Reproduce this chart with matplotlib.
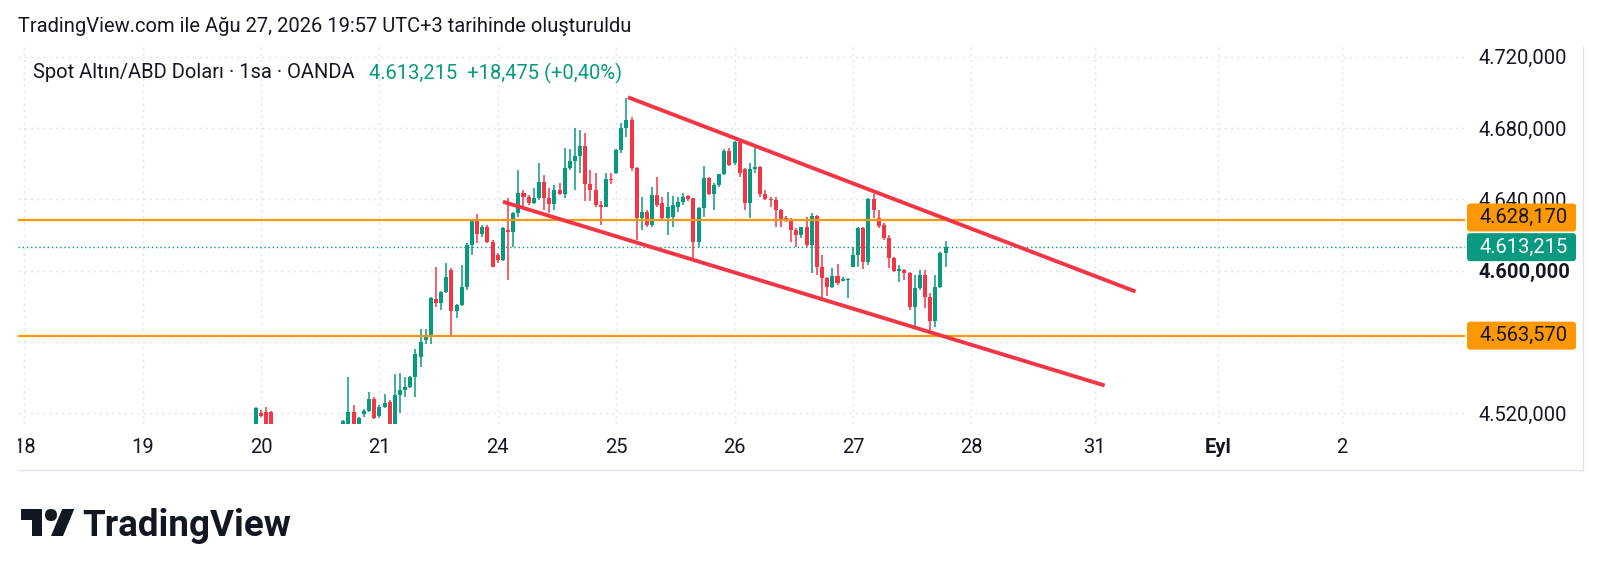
import numpy as np
import matplotlib
matplotlib.use("Agg")
import matplotlib.pyplot as plt
from matplotlib.patches import Polygon, FancyBboxPatch
from matplotlib.lines import Line2D
from matplotlib.transforms import IdentityTransform

plt.rcParams['font.family'] = ['Roboto', 'DejaVu Sans']

# hourly XAU/USD candles, bar index counted from the first bar of Aug 18
# None = bar outside the visible price range
first_bar = 45
opens = [4512.0, 4520.4, 4520.6, 4521.0] + [None] * 13 + [
    4513.0, 4513.0, 4520.6, 4514.0, 4519.6, 4521.3, 4528.0, 4518.7, 4523.4, 4526.5,
    4513.5, 4530.3, 4533.1, 4534.9, 4540.2, 4551.4, 4561.1, 4562.6, 4584.0, 4582.1,
    4588.2, 4600.4, 4577.6, 4580.8, 4591.0, 4614.4, 4628.4, 4620.6, 4624.3, 4616.3,
    4608.8, 4606.0, 4622.8, 4621.9, 4632.2, 4643.4, 4641.2, 4638.1, 4640.6, 4649.5,
    4640.6, 4637.4, 4645.3, 4643.0, 4657.4, 4661.6, 4664.4, 4669.8, 4648.5, 4645.3,
    4636.8, 4635.9, 4651.4, 4655.0, 4667.7, 4679.9, 4684.5, 4657.4, 4629.4, 4633.1,
    4625.6, 4642.5, 4637.8, 4629.4, 4630.3, 4635.9, 4638.7, 4641.9, 4640.6, 4616.3,
    4635.0, 4652.1, 4643.0, 4648.1, 4654.0, 4667.3, 4660.2, 4672.4, 4656.9, 4637.8,
    4656.9, 4658.3, 4643.0, 4640.2, 4639.6, 4634.0, 4629.3, 4628.4, 4622.8, 4620.0,
    4624.3, 4614.4, 4630.8, 4602.2, 4595.7, 4591.0, 4597.0, 4594.5, 4594.8, 4602.2,
    4608.8, 4623.8, 4605.1, 4640.0, 4629.4, 4625.6, 4618.2, 4607.0, 4600.0, 4600.4,
    4598.5, 4579.8, 4590.1, 4597.6, 4585.4, 4572.0, 4591.0, 4610.1]
highs = [4523.7, 4522.0, 4523.4, 4521.5] + [None] * 13 + [
    4516.5, 4540.6, 4524.7, 4518.0, 4522.5, 4532.1, 4529.3, 4524.5, 4530.8, 4527.5,
    4542.1, 4542.5, 4540.6, 4541.0, 4555.9, 4567.1, 4567.1, 4585.4, 4601.9, 4588.5,
    4604.1, 4601.3, 4581.5, 4603.2, 4615.4, 4629.0, 4631.8, 4625.6, 4625.6, 4617.0,
    4609.7, 4624.5, 4640.6, 4633.1, 4656.5, 4645.3, 4642.5, 4646.2, 4660.2, 4653.7,
    4646.2, 4648.1, 4649.0, 4669.0, 4668.1, 4680.3, 4678.9, 4677.1, 4656.5, 4654.6,
    4639.2, 4655.0, 4654.6, 4668.5, 4682.7, 4696.7, 4686.0, 4658.0, 4641.5, 4634.0,
    4647.1, 4652.7, 4641.5, 4644.3, 4641.9, 4641.5, 4643.4, 4642.5, 4641.0, 4635.5,
    4659.0, 4652.5, 4649.0, 4654.5, 4668.1, 4668.6, 4672.9, 4673.3, 4657.5, 4660.6,
    4670.5, 4658.7, 4645.3, 4641.5, 4641.2, 4634.5, 4630.7, 4629.3, 4623.8, 4624.7,
    4630.0, 4632.2, 4631.5, 4608.8, 4596.5, 4601.3, 4603.8, 4596.6, 4595.9, 4613.1,
    4624.7, 4624.5, 4640.6, 4643.0, 4634.0, 4626.6, 4620.0, 4607.5, 4603.2, 4600.8,
    4599.0, 4597.6, 4600.4, 4600.4, 4587.3, 4597.6, 4610.7, 4616.7]
lows = [4508.0, 4518.0, 4509.0, 4509.0] + [None] * 13 + [
    4511.0, 4511.0, 4510.0, 4512.0, 4518.0, 4520.5, 4516.8, 4517.5, 4522.8, 4510.0,
    4511.0, 4519.9, 4529.3, 4534.0, 4529.3, 4546.2, 4558.9, 4558.9, 4579.8, 4578.0,
    4587.5, 4563.4, 4573.3, 4580.0, 4589.2, 4608.8, 4615.4, 4619.1, 4615.4, 4601.9,
    4604.3, 4605.2, 4594.8, 4613.5, 4630.3, 4635.9, 4636.8, 4637.4, 4639.5, 4634.0,
    4632.2, 4634.0, 4642.5, 4640.6, 4656.6, 4645.3, 4655.0, 4639.2, 4639.2, 4635.9,
    4625.6, 4635.5, 4648.5, 4654.0, 4665.8, 4675.2, 4656.0, 4617.2, 4622.8, 4624.7,
    4624.7, 4635.9, 4628.9, 4620.0, 4624.7, 4633.1, 4636.8, 4639.0, 4607.0, 4613.5,
    4630.3, 4642.5, 4634.0, 4647.0, 4653.5, 4658.5, 4659.3, 4652.8, 4634.0, 4629.4,
    4654.6, 4641.5, 4639.6, 4635.5, 4624.7, 4624.7, 4627.5, 4616.3, 4613.5, 4618.2,
    4613.5, 4598.5, 4597.6, 4584.5, 4585.8, 4590.5, 4591.9, 4594.0, 4584.5, 4601.9,
    4602.2, 4600.8, 4603.3, 4629.4, 4623.8, 4617.2, 4601.3, 4599.4, 4593.8, 4594.8,
    4578.0, 4568.6, 4589.2, 4578.9, 4566.7, 4568.6, 4590.1, 4602.2]
closes = [4522.8, 4518.7, 4512.0, 4512.0] + [None] * 13 + [
    4515.9, 4520.9, 4513.0, 4517.2, 4521.5, 4528.0, 4517.2, 4523.4, 4525.6, 4513.0,
    4530.3, 4533.1, 4534.9, 4540.2, 4553.3, 4560.2, 4563.4, 4584.5, 4582.1, 4588.2,
    4596.3, 4577.6, 4580.8, 4591.0, 4614.4, 4628.4, 4620.6, 4624.3, 4616.3, 4602.2,
    4606.0, 4623.8, 4621.5, 4632.2, 4643.4, 4641.2, 4638.1, 4640.6, 4649.9, 4640.6,
    4637.4, 4645.3, 4643.0, 4657.4, 4661.6, 4664.4, 4669.8, 4648.5, 4645.3, 4636.8,
    4635.9, 4651.4, 4650.8, 4667.7, 4679.9, 4684.5, 4657.4, 4629.4, 4633.1, 4625.6,
    4642.5, 4636.8, 4629.4, 4635.9, 4636.8, 4638.7, 4641.5, 4640.0, 4616.3, 4635.0,
    4652.1, 4643.0, 4648.1, 4654.0, 4667.3, 4659.3, 4672.4, 4654.6, 4637.8, 4656.9,
    4658.3, 4643.0, 4640.0, 4639.6, 4634.0, 4628.4, 4628.4, 4622.8, 4620.0, 4624.3,
    4614.4, 4630.8, 4602.2, 4595.7, 4591.0, 4597.0, 4593.3, 4595.3, 4595.5, 4608.8,
    4623.8, 4605.1, 4640.0, 4634.0, 4625.1, 4618.2, 4607.0, 4600.0, 4600.8, 4598.5,
    4579.8, 4590.1, 4597.6, 4585.4, 4572.0, 4591.0, 4610.1, 4613.215]

day_starts = [0, 23, 46, 69, 92, 115, 138, 161, 184, 208, 232, 256]
day_labels = ["18", "19", "20", "21", "24", "25", "26", "27", "28", "31", "Eyl", "2"]

price_ticks = [4520, 4560, 4600, 4640, 4680, 4720]
level_high = 4628.170
level_low = 4563.570
last_price = 4613.215
change = 18.475
change_pct = 0.40

# channel drawn by hand: (bar, price) anchors
upper_bars = [117.3, 215.9]
upper_prices = [4697.3, 4588.3]
lower_bars = [93.0, 209.9]
lower_prices = [4638.7, 4535.6]

GREEN = '#089981'
RED = '#F23645'
ORANGE = '#FF9800'
TEXT = '#131722'
GRID = '#E0E3EB'
W, H = 1600, 573


def tr_num(v, decimals=3):
    s = f"{v:,.{decimals}f}"
    return s.replace(",", "_").replace(".", ",").replace("_", ".")


def fx(px):
    return px / W


def fy(py):
    return 1 - py / H


fig = plt.figure(figsize=(W / 100, H / 100), dpi=100)
fig.patch.set_facecolor('white')

ax = fig.add_axes([fx(18), fy(424), fx(1465) - fx(18), fy(47) - fy(424)])
ax.set_xlim(-1.2, 279.9)
ax.set_ylim(4514.0, 4725.5)
for s in ax.spines.values():
    s.set_visible(False)

# grid
for p in price_ticks:
    ax.axhline(p, color=GRID, lw=1, ls=(0, (1.5, 3)), zorder=0)
for d in day_starts:
    ax.axvline(d, color=GRID, lw=1, ls=(0, (1.5, 3)), zorder=0)

# candles
o = np.array(opens, dtype=float)
h = np.array(highs, dtype=float)
l = np.array(lows, dtype=float)
c = np.array(closes, dtype=float)
bars = np.arange(first_bar, first_bar + len(o))
ok = ~np.isnan(o)
cols = np.where(c >= o, GREEN, RED)[ok]
ax.vlines(bars[ok], l[ok], h[ok], colors=cols, lw=1.1, zorder=2)
ax.bar(bars[ok], np.maximum(np.abs(c - o)[ok], 0.5), bottom=np.minimum(o, c)[ok],
       width=0.78, color=cols, lw=0, zorder=3)

# levels and drawings
ax.axhline(last_price, color=GREEN, lw=1, ls=(0, (1, 2)), zorder=1)
ax.axhline(level_high, color=ORANGE, lw=1.6, zorder=4)
ax.axhline(level_low, color=ORANGE, lw=1.6, zorder=4)
ax.plot(upper_bars, upper_prices, color=RED, lw=2.8, solid_capstyle='butt', zorder=5)
ax.plot(lower_bars, lower_prices, color=RED, lw=2.8, solid_capstyle='butt', zorder=5)

# price scale
ax.yaxis.tick_right()
ax.set_yticks(price_ticks)
ax.set_yticklabels(["" if p == 4560 else tr_num(p) for p in price_ticks])
ax.tick_params(axis='y', length=0, pad=10, labelsize=14.5, labelcolor=TEXT)
ax.tick_params(axis='x', bottom=False, labelbottom=False)
for lbl, p in zip(ax.get_yticklabels(), price_ticks):
    if p == 4600:
        lbl.set_fontweight('bold')

# time scale
ax_t = fig.add_axes([fx(18), fy(470), fx(1465) - fx(18), fy(424) - fy(470)])
ax_t.set_xlim(ax.get_xlim())
ax_t.set_ylim(0, 1)
ax_t.axis('off')
for d, lab in zip(day_starts, day_labels):
    ax_t.text(d, 0.48, lab, ha='center', va='center', fontsize=14.5, color=TEXT,
              fontweight='bold' if lab == "Eyl" else 'normal', clip_on=True)

# frame lines
fig.add_artist(Line2D([fx(1583), fx(1583)], [fy(47), fy(470)], color='#E0E3EB', lw=1))
fig.add_artist(Line2D([fx(18), fx(1583)], [fy(470), fy(470)], color='#E0E3EB', lw=1))

# price labels on the scale
fig.canvas.draw()
boxes = [(level_high, ORANGE, TEXT, -3), (last_price, GREEN, 'white', 0),
         (level_low, ORANGE, TEXT, 0)]
for p, bg, fg, shift in boxes:
    py = H - ax.transData.transform((0, p))[1] + shift
    fig.add_artist(FancyBboxPatch((1467, H - py - 14), 109, 28,
                                  boxstyle="round,pad=0,rounding_size=3",
                                  transform=IdentityTransform(), fc=bg, ec='none'))
    fig.text(fx(1479), fy(py), tr_num(p), fontsize=14.5, color=fg, va='center', ha='left')

# header
fig.text(fx(18), fy(26), "TradingView.com ile Ağu 27, 2026 19:57 UTC+3 tarihinde oluşturuldu",
         fontsize=14.5, color=TEXT, va='center')
fig.text(fx(33), fy(73), "Spot Altın/ABD Doları · 1sa · OANDA", fontsize=14.5, color=TEXT, va='center')
fig.text(fx(369), fy(73),
         f"{tr_num(last_price)}  +{tr_num(change)} (+{tr_num(change_pct, 2)}%)",
         fontsize=14.5, color=GREEN, va='center')

# logo
sc, lx, ly = 1.5, 21, 503


def lp(ux, uy):
    return (fx(lx + ux * sc), fy(ly + uy * sc))


logo_kw = dict(transform=fig.transFigure, fc=TEXT, ec='none')
fig.add_artist(Polygon([lp(14, 22), lp(7, 22), lp(7, 11), lp(0, 11), lp(0, 4), lp(14, 4)], **logo_kw))
fig.add_artist(Polygon([lp(28, 22), lp(20, 22), lp(27.5, 4), lp(35.5, 4)], **logo_kw))
fig.add_artist(FancyBboxPatch((lx + 16 * sc, H - (ly + 12 * sc)), 8 * sc, 8 * sc,
                              boxstyle=f"round,pad=0,rounding_size={4 * sc}",
                              transform=IdentityTransform(), fc=TEXT, ec='none'))
fig.text(fx(82), fy(536), "TradingView", fontsize=26.5, fontweight='bold', color=TEXT,
         va='baseline', ha='left')

fig.savefig("out.png", dpi=100, facecolor='white')
